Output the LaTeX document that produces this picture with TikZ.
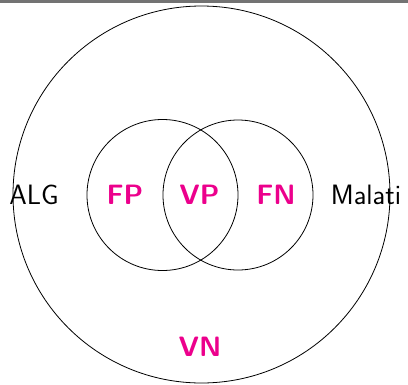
\documentclass[tikz,border=0pt]{standalone}
\definecolor{mag}{RGB}{236,0,140}
\tikzset{
  lbl/.style={font=\fontsize{28}{33}\selectfont\sffamily, inner sep=0pt},
  blbl/.style={font=\fontsize{28}{33}\selectfont\sffamily\bfseries, text=mag, inner sep=0pt},
  ring/.style={draw=black, line width=0.8pt}
}
\begin{document}
\begin{tikzpicture}[x=1pt,y=-1pt]
\useasboundingbox (0,0) rectangle (408,384);
\fill[black!55] (0,0) rectangle (408,2.5);
\node[ring, circle, minimum size=377pt, inner sep=0pt] (big) at (201.5,194.5) {};
\node[ring, circle, minimum size=151pt, inner sep=0pt] (L) at (162.5,195) {};
\node[ring, circle, minimum size=150pt, inner sep=0pt] (R) at (238,195) {};
\node[lbl, anchor=base] (alg) at (34,204.3) {ALG};
\node[lbl, anchor=base] (mal) at (366,204.3) {Malati};
\node[blbl, anchor=base] (fp) at (125,204.3) {FP};
\node[blbl, anchor=base] (vp) at (199.5,204.3) {VP};
\node[blbl, anchor=base] (fn) at (276,204.3) {FN};
\node[blbl, anchor=base] (vn) at (200,356.5) {VN};
\end{tikzpicture}
\end{document}
